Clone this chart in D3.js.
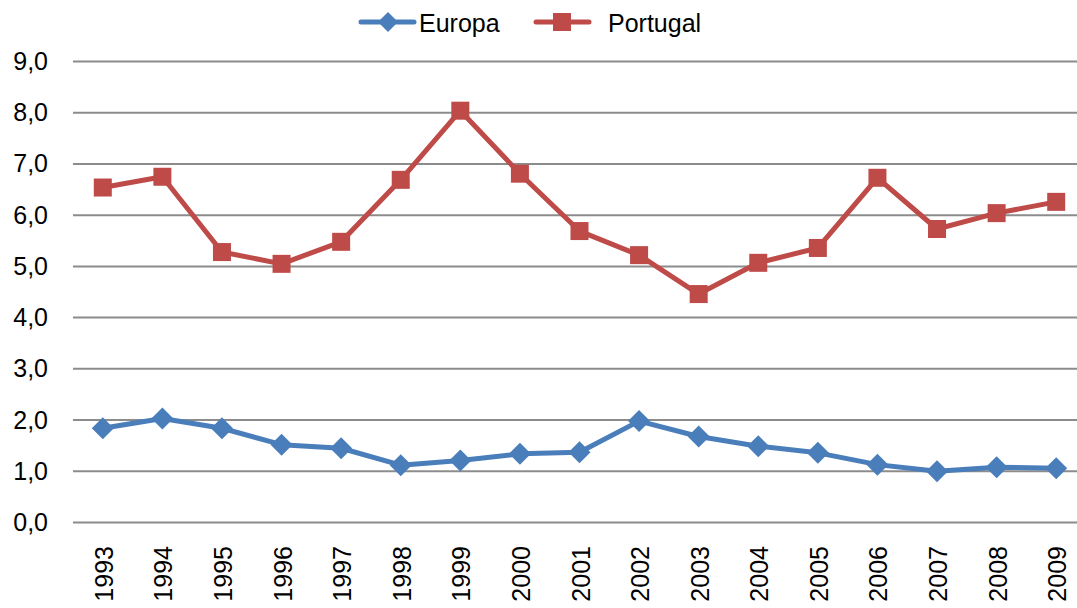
<!DOCTYPE html>
<html>
<head>
<meta charset="utf-8">
<script src="https://cdn.jsdelivr.net/npm/d3@7"></script>
<style>
  body { margin: 0; background: #fff; }
  text { font-family: "Liberation Sans", Arial, sans-serif; fill: #000; }
</style>
</head>
<body>
<div id="plot"></div>
<script>
// data
var years = ["1993","1994","1995","1996","1997","1998","1999","2000","2001","2002","2003","2004","2005","2006","2007","2008","2009"];
var europa = [1.83, 2.02, 1.83, 1.51, 1.44, 1.11, 1.20, 1.33, 1.36, 1.97, 1.67, 1.48, 1.35, 1.12, 0.99, 1.07, 1.05];
var portugal = [6.53, 6.74, 5.27, 5.04, 5.47, 6.68, 8.03, 6.80, 5.68, 5.21, 4.45, 5.06, 5.35, 6.72, 5.72, 6.03, 6.25];
var yTicks = [0, 1, 2, 3, 4, 5, 6, 7, 8, 9];

var W = 1077, H = 608;
var fs = "25px";
var svg = d3.select("#plot").append("svg")
    .attr("width", W).attr("height", H);

var x = d3.scalePoint()
    .domain(years)
    .range([73, 1086])
    .padding(0.5);

var y = d3.scaleLinear()
    .domain([0, 9])
    .range([522, 61]);

// gridlines
svg.append("g")
    .attr("transform", "translate(73,0)")
    .call(d3.axisLeft(y).tickValues(yTicks).tickSize(-(W - 73)).tickFormat(""))
    .call(function (g) { g.select(".domain").remove(); })
    .selectAll(".tick line")
    .attr("stroke", "#8c8c8c")
    .attr("stroke-width", 2);

// y labels
svg.append("g").selectAll("text")
    .data(yTicks)
    .enter().append("text")
    .attr("x", 48)
    .attr("y", function (d) { return y(d); })
    .attr("dy", "0.36em")
    .attr("text-anchor", "end")
    .style("font-size", fs)
    .text(function (d) { return d3.format(".1f")(d).replace(".", ","); });

// x labels
svg.append("g").selectAll("text")
    .data(years)
    .enter().append("text")
    .attr("transform", function (d) { return "translate(" + (x(d) + 1) + ",546) rotate(-90)"; })
    .attr("dy", "0.36em")
    .attr("text-anchor", "end")
    .style("font-size", fs)
    .text(function (d) { return d; });

var line = d3.line()
    .x(function (d, i) { return x(years[i]); })
    .y(function (d) { return y(d); });

var blue = "#4a7ebb", red = "#be4b48";

function diamond(sel, cx, cy, r) {
    sel.append("path")
        .attr("d", "M" + cx + "," + (cy - r) + "L" + (cx + r) + "," + cy + "L" + cx + "," + (cy + r) + "L" + (cx - r) + "," + cy + "Z")
        .attr("fill", blue);
}

// Portugal
svg.append("path").datum(portugal)
    .attr("d", line).attr("fill", "none")
    .attr("stroke", red).attr("stroke-width", 5).attr("stroke-linejoin", "round");
svg.append("g").selectAll("rect")
    .data(portugal).enter().append("rect")
    .attr("x", function (d, i) { return x(years[i]) - 9; })
    .attr("y", function (d) { return y(d) - 9; })
    .attr("width", 18).attr("height", 18)
    .attr("fill", red);

// Europa
svg.append("path").datum(europa)
    .attr("d", line).attr("fill", "none")
    .attr("stroke", blue).attr("stroke-width", 5).attr("stroke-linejoin", "round");
var eg = svg.append("g");
europa.forEach(function (d, i) { diamond(eg, x(years[i]), y(d), 11); });

// legend
var lg = svg.append("g");
lg.append("line").attr("x1", 361).attr("x2", 414).attr("y1", 22).attr("y2", 22)
    .attr("stroke", blue).attr("stroke-width", 5).attr("stroke-linecap", "round");
diamond(lg, 388, 22, 10);
lg.append("text").attr("x", 419).attr("y", 23).attr("dy", "0.36em")
    .style("font-size", fs).text("Europa");
lg.append("line").attr("x1", 536).attr("x2", 589).attr("y1", 22).attr("y2", 22)
    .attr("stroke", red).attr("stroke-width", 5).attr("stroke-linecap", "round");
lg.append("rect").attr("x", 553).attr("y", 13).attr("width", 18).attr("height", 18).attr("fill", red);
lg.append("text").attr("x", 608).attr("y", 23).attr("dy", "0.36em")
    .style("font-size", fs).text("Portugal");
</script>
</body>
</html>
